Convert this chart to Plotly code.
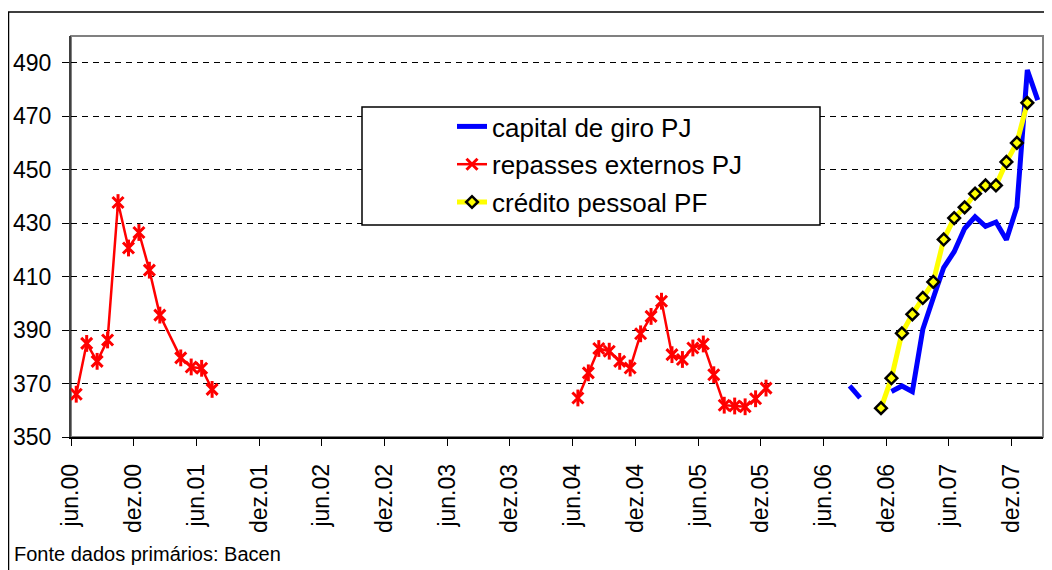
import plotly.graph_objects as go

# month axis: jun.00 .. fev.08 (one category per month)
meses_abrev = ["jan", "fev", "mar", "abr", "mai", "jun", "jul", "ago", "set", "out", "nov", "dez"]
meses = []
for ano in range(2000, 2009):
    for i, nome in enumerate(meses_abrev):
        if (ano == 2000 and i < 5) or (ano == 2008 and i > 1):
            continue
        meses.append(f"{nome}.{str(ano)[2:]}")

rotulos_x = [m for m in meses if m.startswith(("jun", "dez"))][:16]
ticks_y = [350, 370, 390, 410, 430, 450, 470, 490]

# series values (None = month with no point, line goes straight across)
inicio_repasses_1 = "jun.00"
repasses_1 = [366, 385, 378.3, 386.3, 437.7, 420.7, 426.5, 412.4, 395.6, None, 379.6, 376.2, 375.7, 367.8]
inicio_repasses_2 = "jun.04"
repasses_2 = [364.6, 374, 383.1, 382.1, 378.3, 375.8, 388.6, 395.1, 400.8, 380.8,
              379, 383.3, 384.8, 373.3, 361.9, 361.6, 361.3, 364.3, 368.3]

inicio_capital_1 = "ago.06"
capital_1 = [369.1, 364.6]
inicio_capital_2 = "dez.06"
capital_2 = [367, 369.1, 367, 390.3, 402, 413.4, 419.3, 428, 432.4, 428.8, 430.4, 423.8, 436, 487.3, 476]

inicio_credito = "nov.06"
credito = [360.8, 372, 388.8, 395.9, 402, 408, 423.9, 431.9, 435.9, 441, 444.1, 444.1, 452.9, 460, 475]


def serie(*segmentos):
    # join segments (start label, values) into one x/y pair, broken between segments
    xs, ys = [], []
    for inicio, valores in segmentos:
        if xs:
            xs.append(None)
            ys.append(None)
        i0 = meses.index(inicio)
        for k, v in enumerate(valores):
            if v is None:
                continue
            xs.append(i0 + k)
            ys.append(v)
    return xs, ys


cap_x, cap_y = serie((inicio_capital_1, capital_1), (inicio_capital_2, capital_2))
rep_x, rep_y = serie((inicio_repasses_1, repasses_1), (inicio_repasses_2, repasses_2))
cred_x, cred_y = serie((inicio_credito, credito))

# the page body adds an 8px margin, so the figure is 8px smaller and everything is offset
OFF = 8
W, H = 1044, 562
L, R, T, B = 63, 9, 28, 133
pw, ph = W - L - R, H - T - B


def px(x):
    # page pixel -> paper fraction
    return (x - OFF - L) / pw


def py(y):
    return (H - B - (y - OFF)) / ph


fig = go.Figure()

fig.add_trace(
    go.Scatter(
        x=cap_x, y=cap_y, mode="lines", name="capital de giro PJ",
        line=dict(color="#0000FF", width=5), legendgroup="a",
    )
)
fig.add_trace(
    go.Scatter(
        x=rep_x, y=rep_y, mode="lines+markers", name="repasses externos PJ",
        line=dict(color="#FF0000", width=2.5),
        marker=dict(symbol="x-thin", size=11, color="#FF0000", line=dict(width=3, color="#FF0000")),
        legendgroup="b",
    )
)
# vertical stroke of the star marker
fig.add_trace(
    go.Scatter(
        x=rep_x, y=rep_y, mode="markers", showlegend=False, hoverinfo="skip",
        marker=dict(symbol="line-ns", size=12, color="#FF0000", line=dict(width=3, color="#FF0000")),
        legendgroup="b",
    )
)
fig.add_trace(
    go.Scatter(
        x=cred_x, y=cred_y, mode="lines+markers", name="crédito pessoal PF",
        line=dict(color="#FFFF00", width=5),
        marker=dict(symbol="diamond", size=9, color="#FFFF00", line=dict(width=2.5, color="#000000")),
        legendgroup="c",
    )
)

# outer chart frame and legend box
fig.add_shape(type="rect", xref="paper", yref="paper", x0=px(8.5), x1=px(1070), y0=py(590), y1=py(12),
              line=dict(color="#000000", width=1.5), layer="below")
fig.add_shape(type="rect", xref="paper", yref="paper", x0=0, x1=1, y0=0, y1=1,
              line=dict(color="#808080", width=2), layer="below")
fig.add_shape(type="rect", xref="paper", yref="paper", x0=px(362), x1=px(820), y0=py(225), y1=py(107),
              line=dict(color="#000000", width=1.5), fillcolor="white", layer="above")

fig.add_annotation(
    text="Fonte dados primários: Bacen", xref="paper", yref="paper",
    x=px(12), y=py(554), xanchor="left", yanchor="middle", showarrow=False,
    font=dict(size=20, color="#000000"),
)

fig.update_layout(
    width=W, height=H,
    margin=dict(l=L, r=R, t=T, b=B, autoexpand=False),
    paper_bgcolor="white", plot_bgcolor="white",
    font=dict(family="Arial, Liberation Sans, sans-serif", color="#000000"),
    showlegend=True,
    legend=dict(
        x=px(452), y=py(103), xanchor="left", yanchor="top",
        bgcolor="rgba(0,0,0,0)", borderwidth=0,
        font=dict(size=26), tracegroupgap=1,
    ),
    xaxis=dict(
        range=[-0.5, len(meses) - 0.5],
        tickvals=[meses.index(m) - 0.5 for m in rotulos_x],
        ticktext=rotulos_x, tickangle=-90,
        ticks="outside", ticklen=7, tickcolor="#000000", tickwidth=1,
        ticklabelstandoff=9, automargin=False,
        showgrid=False, zeroline=False,
        showline=True, linecolor="#000000", linewidth=1.5,
        tickfont=dict(size=23),
    ),
    yaxis=dict(
        range=[350, 500], tickvals=ticks_y,
        ticks="outside", ticklen=7, tickcolor="#000000", tickwidth=1,
        ticklabelstandoff=6, automargin=False,
        showgrid=True, gridcolor="#000000", gridwidth=1, griddash="6px,5px",
        zeroline=False,
        showline=True, linecolor="#404040", linewidth=2,
        tickfont=dict(size=23),
    ),
)

fig.write_html("out.html")
